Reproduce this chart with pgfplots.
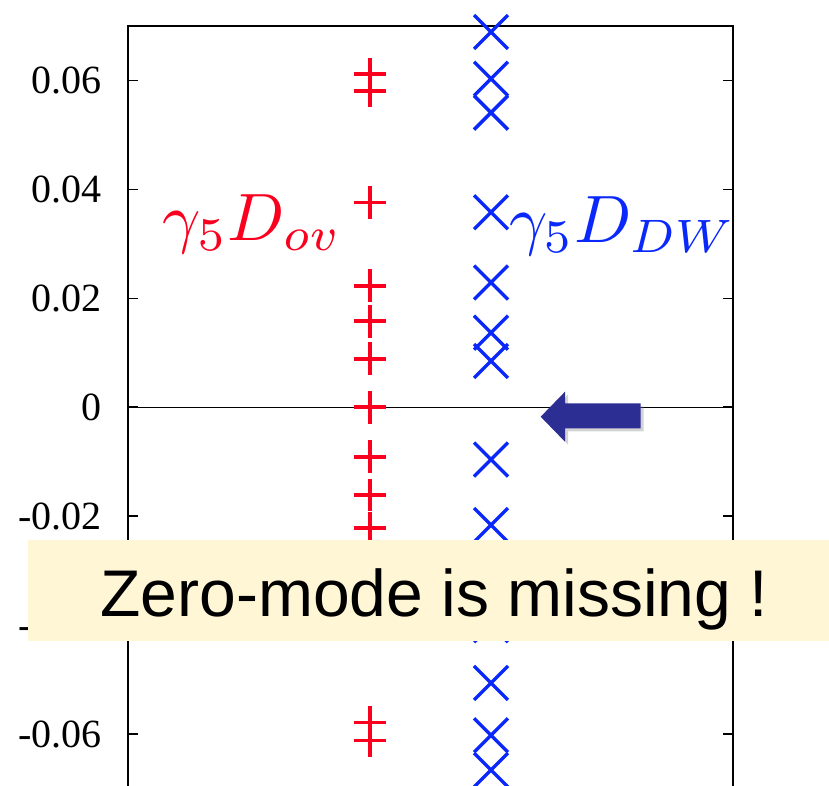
\documentclass[border=0pt]{standalone}
\usepackage{pgfplots}
\pgfplotsset{compat=1.18}
\usepackage{fontspec}
\setmainfont{Liberation Serif}
\newfontfamily\arialfont{Liberation Sans}
\usetikzlibrary{shadows}
\definecolor{pred}{RGB}{250,0,30}
\definecolor{pblue}{RGB}{10,40,250}
\definecolor{arrowblue}{RGB}{44,46,148}
\definecolor{cream}{RGB}{255,246,214}
\begin{document}
\begin{tikzpicture}
\begin{axis}[
  at={(64pt,-1.3pt)}, anchor=south west,
  scale only axis, width=302.5pt, height=381.3pt,
  xmin=0, xmax=5, ymin=-0.07, ymax=0.07,
  xtick=\empty, scaled y ticks=false,
  ytick={-0.06,-0.04,-0.02,0,0.02,0.04,0.06},
  yticklabels={-0.06,-0.04,-0.02,0,0.02,0.04,0.06},
  yticklabel style={font=\fontsize{20}{24}\selectfont, anchor=east, inner sep=0pt, xshift=-13pt},
  tick align=inside, major tick length=5pt,
  tick style={line width=0.8pt, black},
  axis line style={line width=1pt},
  clip=false,
]
\addplot[black, line width=0.6pt, forget plot] coordinates {(0,0) (5,0)};
\addplot[only marks, mark=+, mark size=8.2pt, pred, mark options={line width=1.8pt}] coordinates {
(2,0.0612) (2,0.0581) (2,0.0376) (2,0.0223) (2,0.0158) (2,0.0089) (2,0)
(2,-0.0091) (2,-0.0161) (2,-0.0222) (2,-0.0376) (2,-0.0579) (2,-0.0612)};
\addplot[only marks, mark=x, mark size=12pt, pblue, mark options={line width=1.7pt}] coordinates {
(3,0.0689) (3,0.0603) (3,0.0541) (3,0.0358) (3,0.0229) (3,0.0137) (3,0.0085)
(3,-0.0096) (3,-0.0216) (3,-0.0300) (3,-0.0400) (3,-0.0506) (3,-0.0602) (3,-0.0666)};
\node[anchor=base west, inner sep=0pt, text=pred, font=\normalsize, scale=3.35] at (axis cs:0.278,0.0306) {$\gamma_5 D_{ov}$};
\node[anchor=base west, inner sep=0pt, text=pblue, font=\normalsize, scale=3.35] at (axis cs:3.14,0.0303) {$\gamma_5 D_{DW}$};
\end{axis}
\begin{scope}[shift={(0pt,393pt)}, x=0.5pt, y=-0.5pt]
\fill[arrowblue, drop shadow={shadow xshift=1.5pt, shadow yshift=-1.5pt, opacity=0.35}]
  (540.7,416.7) -- (565,391.7) -- (565,403.3) -- (640.7,403.3) -- (640.7,428.3) -- (565,428.3) -- (565,441.7) -- cycle;
\fill[cream] (28,540) rectangle (840,641);
\node[anchor=base west, inner sep=0pt, font=\arialfont\fontsize{33}{40}\selectfont] at (100,616.7) {Zero-mode is missing !};
\end{scope}
\pgfresetboundingbox
\path[use as bounding box] (0,0) rectangle (414.5pt,393pt);
\end{tikzpicture}
\end{document}
